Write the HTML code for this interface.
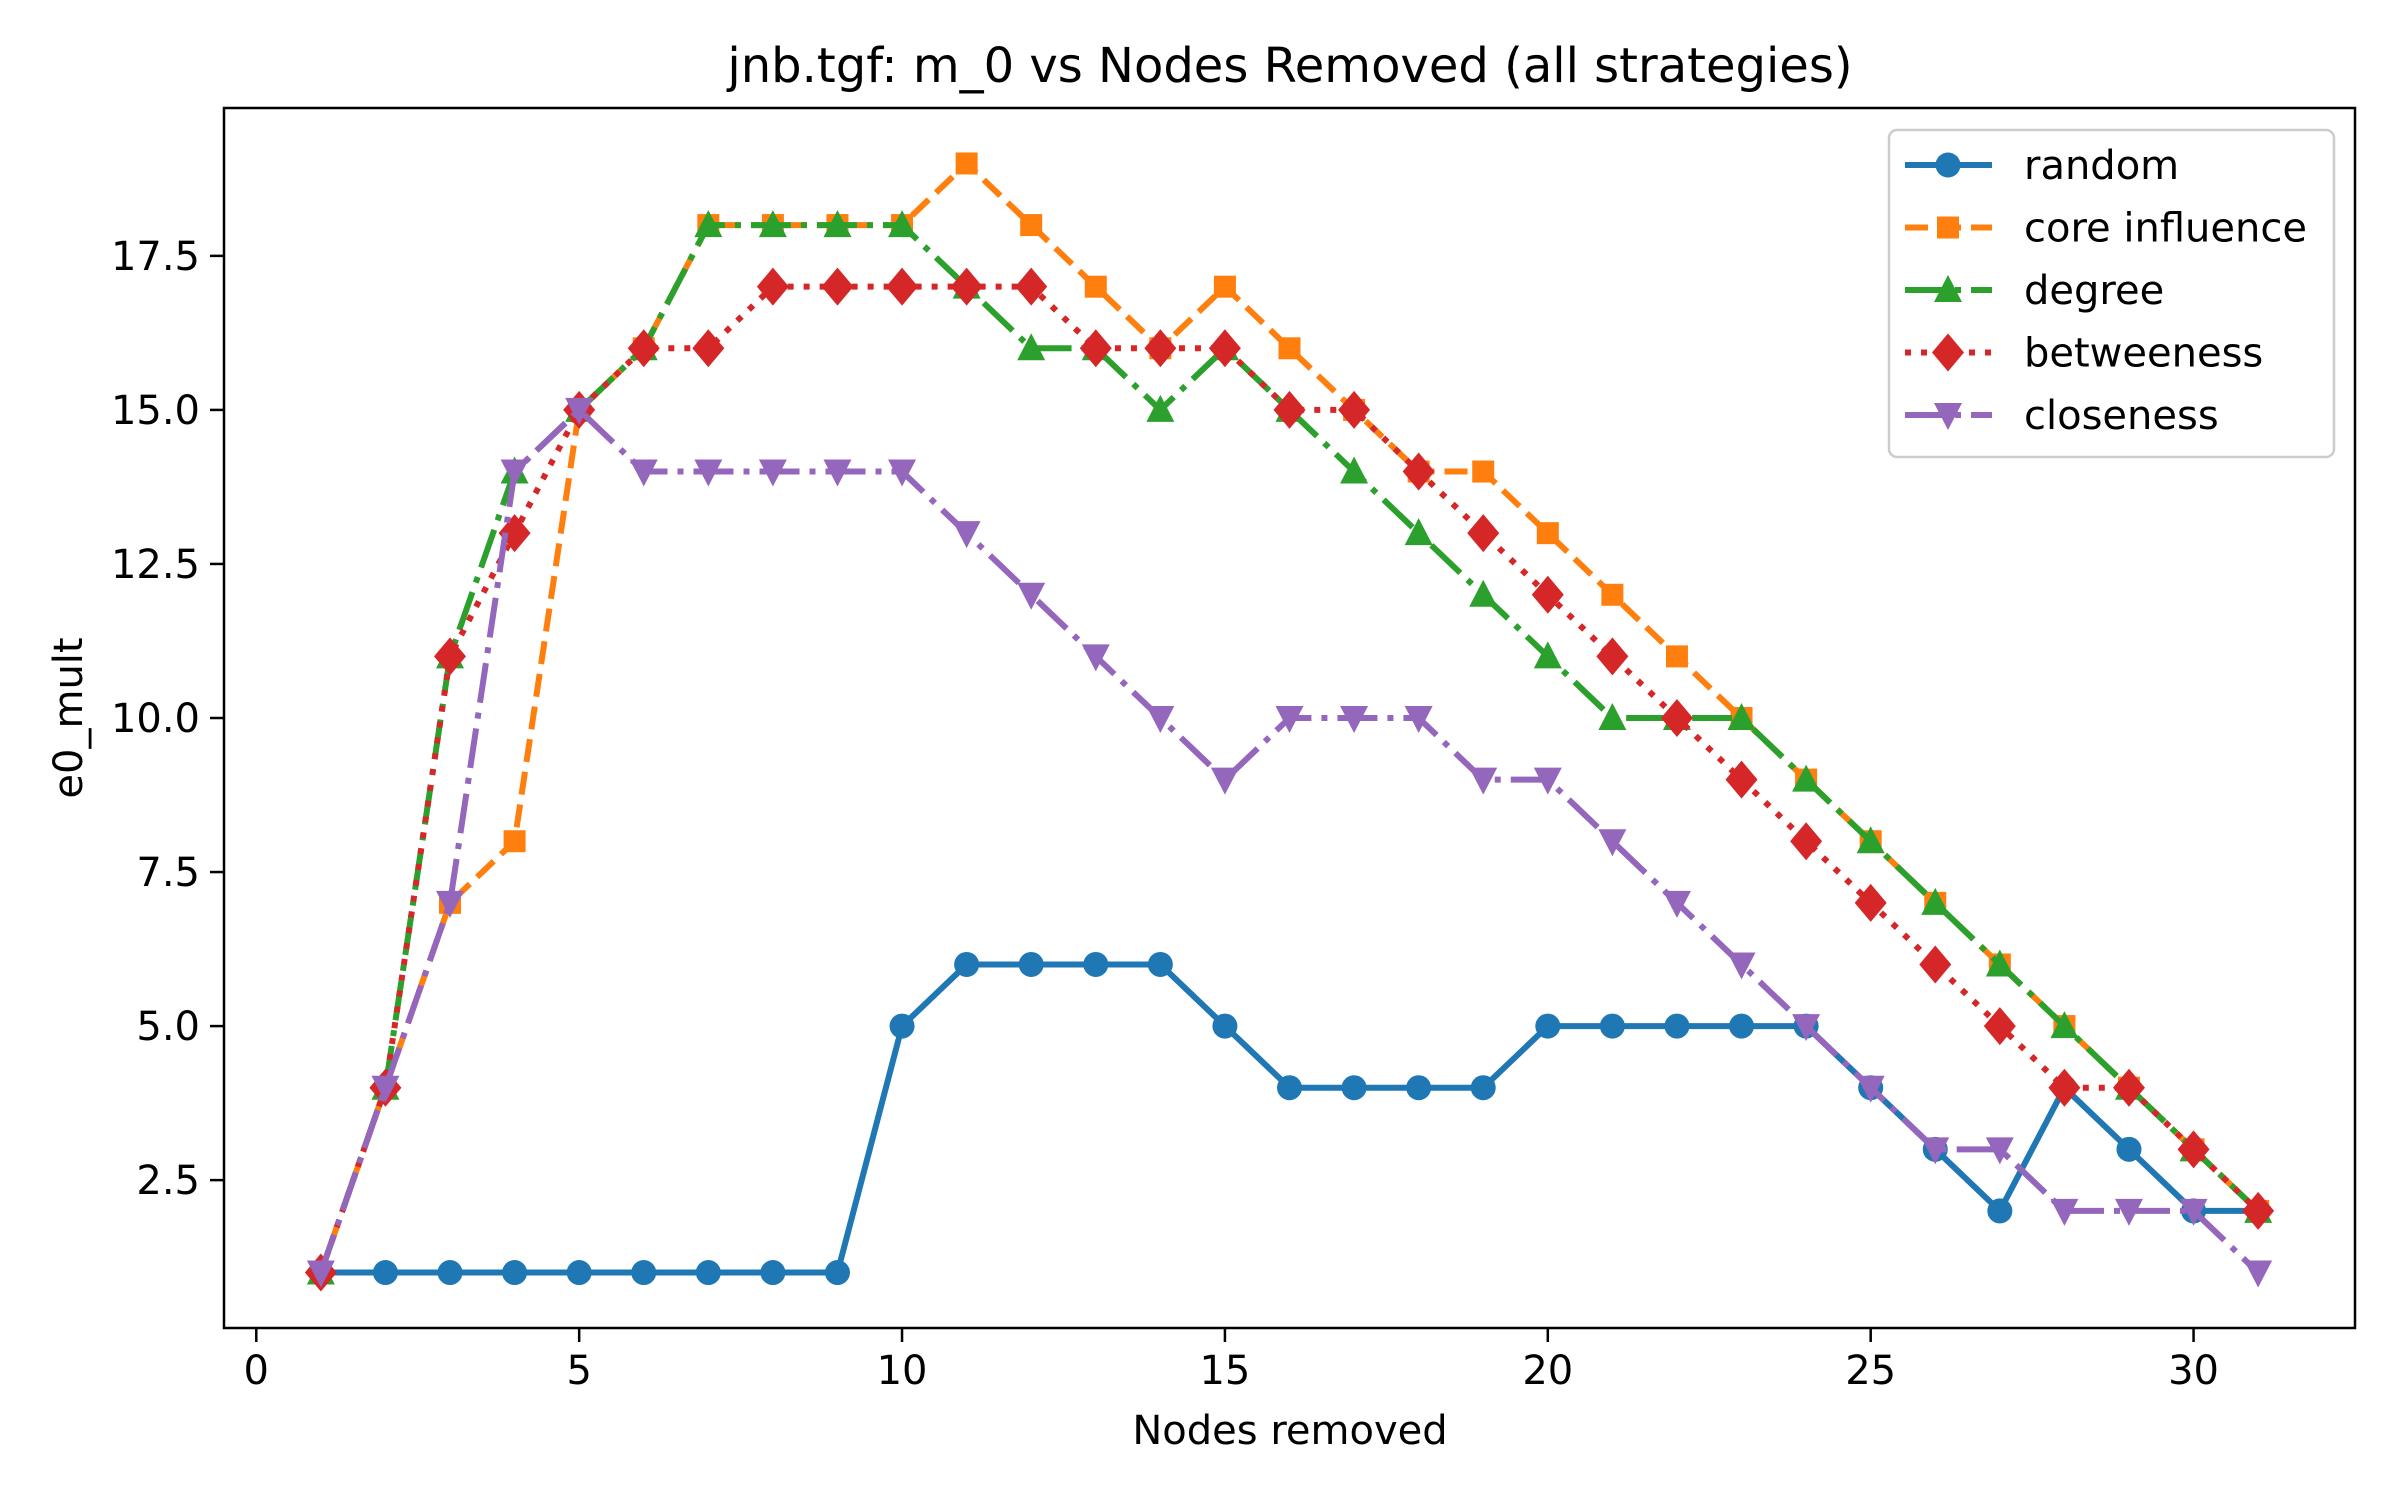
<!DOCTYPE html>
<html><head><meta charset="utf-8"><style>
body{margin:0;background:#fff}
svg{display:block;font-family:"DejaVu Sans","Liberation Sans",sans-serif}
</style></head><body>
<svg id="chart" width="2400" height="1500" viewBox="0 0 2400 1500" xmlns="http://www.w3.org/2000/svg">
<rect width="2400" height="1500" fill="#fff"/>
<text x="1290" y="82" font-size="48" text-anchor="middle">jnb.tgf: m_0 vs Nodes Removed (all strategies)</text>
<g id="grid"></g>
<g id="series"></g>
<rect x="224" y="108" width="2131" height="1220" fill="none" stroke="#000" stroke-width="2.5"/>
<g id="axes"></g>
<text x="1290" y="1444" font-size="40" text-anchor="middle">Nodes removed</text>
<text transform="translate(82,718) rotate(-90)" font-size="40" text-anchor="middle">e0_mult</text>
<g id="legend"></g>
</svg>
<script>
const xValues = [1,2,3,4,5,6,7,8,9,10,11,12,13,14,15,16,17,18,19,20,21,22,23,24,25,26,27,28,29,30,31];
const randomVals = [1,1,1,1,1,1,1,1,1,5,6,6,6,6,5,4,4,4,4,5,5,5,5,5,4,3,2,4,3,2,2];
const coreVals = [1,4,7,8,15,16,18,18,18,18,19,18,17,16,17,16,15,14,14,13,12,11,10,9,8,7,6,5,4,3,2];
const degreeVals = [1,4,11,14,15,16,18,18,18,18,17,16,16,15,16,15,14,13,12,11,10,10,10,9,8,7,6,5,4,3,2];
const betweenVals = [1,4,11,13,15,16,16,17,17,17,17,17,16,16,16,15,15,14,13,12,11,10,9,8,7,6,5,4,4,3,2];
const closeVals = [1,4,7,14,15,14,14,14,14,14,13,12,11,10,9,10,10,10,9,9,8,7,6,5,4,3,3,2,2,2,1];
const seriesNames = ["random","core influence","degree","betweeness","closeness"];
const xTicks = [0,5,10,15,20,25,30];
const yTicks = [2.5,5.0,7.5,10.0,12.5,15.0,17.5];

const NS="http://www.w3.org/2000/svg";
const L=224,R=2355,T=108,B=1328;
const xMin=-0.5,xMax=32.5,yMin=0.1,yMax=19.9;
function sx(v){return L+(v-xMin)/(xMax-xMin)*(R-L);}
function sy(v){return B-(v-yMin)/(yMax-yMin)*(B-T);}
function mk(tag,attrs,parent){const e=document.createElementNS(NS,tag);for(const k in attrs)e.setAttribute(k,attrs[k]);parent.appendChild(e);return e;}

const axes=document.getElementById('axes');
xTicks.forEach(t=>{
  const l=mk('line',{x1:sx(t),x2:sx(t),y1:B,y2:B+14,stroke:'#000','stroke-width':2.5},axes);
  
  
  const tx=mk('text',{x:sx(t),y:B+56,'font-size':40,'text-anchor':'middle'},axes);
  tx.textContent=String(t);
  
  
});
yTicks.forEach(t=>{
  const l=mk('line',{x1:L-14,x2:L,y1:sy(t),y2:sy(t),stroke:'#000','stroke-width':2.5},axes);
  
  
  const tx=mk('text',{x:L-24,y:sy(t)+14,'font-size':40,'text-anchor':'end'},axes);
  tx.textContent=t.toFixed(1);
  
  
});

const colors=['#1f77b4','#ff7f0e','#2ca02c','#d62728','#9467bd'];
const dashes=['none','23 10','40 10 6 10','6 10','40 10 6 10'];
const markers=['circle','square','triangle','diamond','tri-down'];
const allVals=[randomVals,coreVals,degreeVals,betweenVals,closeVals];

function marker(g,type,x,y,c){
  let e;
  if(type==='circle') e=mk('circle',{cx:x,cy:y,r:12.5,fill:c},g);
  else if(type==='square') e=mk('rect',{x:x-11,y:y-11,width:22,height:22,fill:c},g);
  else if(type==='triangle') e=mk('polygon',{points:`${x},${y-15} ${x-14},${y+12} ${x+14},${y+12}`,fill:c},g);
  else if(type==='diamond') e=mk('polygon',{points:`${x},${y-19} ${x+16},${y} ${x},${y+19} ${x-16},${y}`,fill:c},g);
  else e=mk('polygon',{points:`${x},${y+15} ${x-14},${y-12} ${x+14},${y-12}`,fill:c},g);
  return e;
}

const sg=document.getElementById('series');
allVals.forEach((vals,i)=>{
  const g=mk('g',{},sg);
  
  
  const pts=vals.map((v,j)=>sx(xValues[j])+','+sy(v)).join(' ');
  const pl=mk('polyline',{points:pts,fill:'none',stroke:colors[i],'stroke-width':6,'stroke-dasharray':dashes[i],'stroke-linejoin':'round'},g);
  
  
  vals.forEach((v,j)=>{
    const m=marker(g,markers[i],sx(xValues[j]),sy(v),colors[i]);
    
    
  });
});

const lg=document.getElementById('legend');
const box=mk('rect',{x:1889,y:130,width:445,height:327,rx:8,fill:'#fff','fill-opacity':0.8,stroke:'#ccc','stroke-width':2.5},lg);


seriesNames.forEach((n,i)=>{
  const y=165+i*62.5;
  const g=mk('g',{},lg);
  
  
  mk('line',{x1:1905,x2:1992,y1:y,y2:y,stroke:colors[i],'stroke-width':6,'stroke-dasharray':dashes[i]},g);
  marker(g,markers[i],1948,y,colors[i]);
  const t=mk('text',{x:2024,y:y+14,'font-size':40},g);
  t.textContent=n;
});
</script>
</body></html>
